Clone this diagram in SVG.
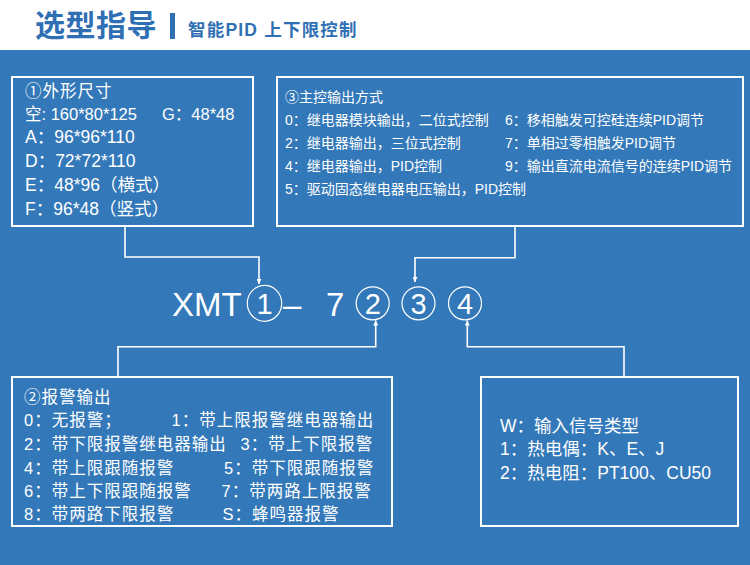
<svg xmlns="http://www.w3.org/2000/svg" width="750" height="565" viewBox="0 0 750 565">
<style>
.t{font-family:"Liberation Sans","Noto Sans CJK SC",sans-serif;fill:#fff}
.box{fill:none;stroke:#fff;stroke-width:2}
.ln{fill:none;stroke:#fff;stroke-width:1.6}
.cir{fill:none;stroke:#fff;stroke-width:1.2}
.s16{font-size:16.5px}
.s16b{font-size:16.5px;letter-spacing:1px}
.s17a{font-size:17.5px}
.s14{font-size:14px}
.s17{font-size:17.5px}
.big{font-size:33px}
.dig{font-size:29px;text-anchor:middle}
</style>
<defs>
<marker id="ah" viewBox="0 0 10 10" refX="10" refY="5" markerWidth="10" markerHeight="5" markerUnits="userSpaceOnUse" orient="auto">
<path d="M0,0 L10,5 L0,10 Z" fill="#fff"/>
</marker>
</defs>
<rect x="0" y="0" width="750" height="565" fill="#3378b9"/>
<g id="header">
<rect x="0" y="0" width="750" height="50" fill="#fff"/>
<text x="35" y="36" font-family="'Noto Sans CJK SC',sans-serif" font-weight="700" font-size="30" letter-spacing="0.5" fill="#2f6fb3">选型指导</text>
<rect x="170" y="13" width="5" height="26" fill="#2f6fb3"/>
<text x="188" y="36" font-family="'Liberation Sans','Noto Sans CJK SC',sans-serif" font-weight="700" font-size="17.5" letter-spacing="1.2" fill="#2f6fb3">智能PID 上下限控制</text>
</g>
<g id="box1">
<rect class="box" x="12" y="77" width="241" height="149"/>
<text class="t s16b" x="25" y="97">①外形尺寸</text>
<text class="t s16" x="25" y="120">空: 160*80*125</text>
<text class="t s16" x="162" y="120">G：48*48</text>
<text class="t s17a" x="25" y="143">A：96*96*110</text>
<text class="t s17a" x="25" y="167">D：72*72*110</text>
<text class="t s17a" x="25" y="191">E：48*96（横式）</text>
<text class="t s17a" x="25" y="215">F：96*48（竖式）</text>
</g>
<g id="box3">
<rect class="box" x="277" y="77" width="466" height="149"/>
<text class="t s14" x="285" y="102">③主控输出方式</text>
<text class="t s14" x="285" y="125">0：继电器模块输出，二位式控制</text>
<text class="t s14" x="285" y="147.5">2：继电器输出，三位式控制</text>
<text class="t s14" x="285" y="171">4：继电器输出，PID控制</text>
<text class="t s14" x="285" y="193.5">5：驱动固态继电器电压输出，PID控制</text>
<text class="t s14" x="505" y="125">6：移相触发可控硅连续PID调节</text>
<text class="t s14" x="505" y="147.5">7：单相过零相触发PID调节</text>
<text class="t s14" x="505" y="171">9：输出直流电流信号的连续PID调节</text>
</g>
<g id="code">
<text class="t big" x="172" y="316">XMT</text>
<ellipse class="cir" cx="264.5" cy="303.3" rx="17.2" ry="18"/>
<text class="t dig" x="264.5" y="314">1</text>
<text class="t big" x="283" y="316">–</text>
<text class="t big" x="326" y="316">7</text>
<circle class="cir" cx="372.7" cy="303.3" r="16.5"/>
<text class="t dig" x="372.7" y="314">2</text>
<circle class="cir" cx="418.5" cy="303.3" r="16.5"/>
<text class="t dig" x="418.5" y="314">3</text>
<circle class="cir" cx="465" cy="303.3" r="16.5"/>
<text class="t dig" x="465" y="314">4</text>
</g>
<g id="box2">
<rect class="box" x="12" y="377" width="380" height="149"/>
<text class="t s16b" x="24" y="403">②报警输出</text>
<text class="t s16b" x="24" y="426">0：无报警；</text>
<text class="t s16b" x="171.5" y="426">1：带上限报警继电器输出</text>
<text class="t s16b" x="24" y="450">2：带下限报警继电器输出</text>
<text class="t s16b" x="240.5" y="450">3：带上下限报警</text>
<text class="t s16b" x="24" y="473.5">4：带上限跟随报警</text>
<text class="t s16b" x="224" y="473.5">5：带下限跟随报警</text>
<text class="t s16b" x="24" y="497">6：带上下限跟随报警</text>
<text class="t s16b" x="221.5" y="497">7：带两路上限报警</text>
<text class="t s16b" x="24" y="520">8：带两路下限报警</text>
<text class="t s16b" x="222.5" y="520">S：蜂鸣器报警</text>
</g>
<g id="box4">
<rect class="box" x="481" y="377" width="257" height="149"/>
<text class="t s17" x="500" y="432">W：输入信号类型</text>
<text class="t s17" x="500" y="455">1：热电偶：K、E、J</text>
<text class="t s17" x="500" y="478.5">2：热电阻：PT100、CU50</text>
</g>
<g id="connectors">
<path class="ln" d="M125,226 V257 H259 V284" marker-end="url(#ah)"/>
<path class="ln" d="M515,226 V257.7 H415 V282" marker-end="url(#ah)"/>
<path class="ln" d="M118,377 V346.7 H375.7 V320.5" marker-end="url(#ah)"/>
<path class="ln" d="M624,377 V346.7 H467.3 V320.5" marker-end="url(#ah)"/>
</g>
</svg>
